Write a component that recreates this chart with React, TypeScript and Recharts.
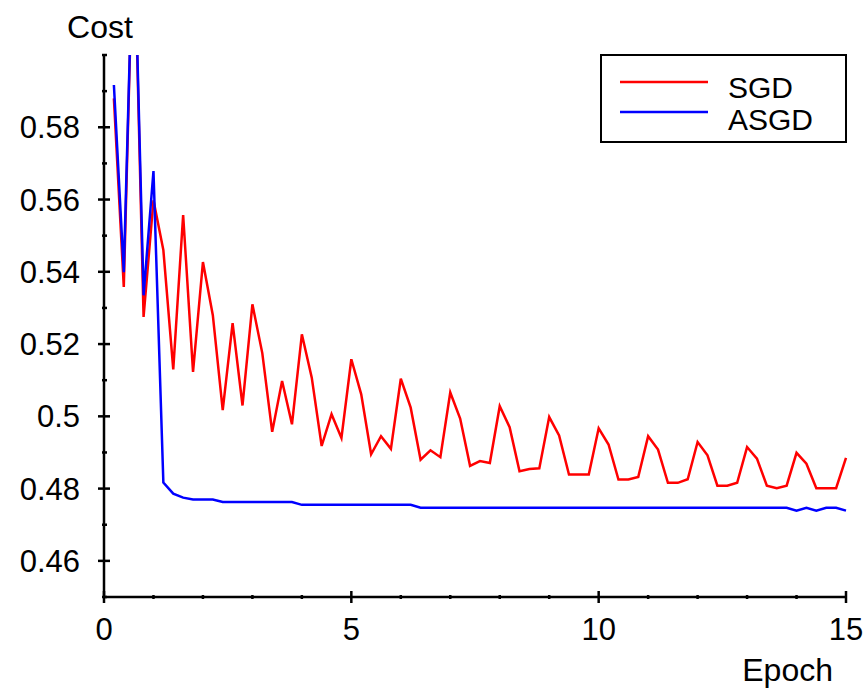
import { Legend, Line, LineChart, XAxis, YAxis } from "recharts";

const epochs = [
  0.2, 0.4, 0.6, 0.8, 1.0, 1.2, 1.4, 1.6, 1.8, 2.0, 2.2, 2.4, 2.6, 2.8, 3.0,
  3.2, 3.4, 3.6, 3.8, 4.0, 4.2, 4.4, 4.6, 4.8, 5.0, 5.2, 5.4, 5.6, 5.8, 6.0,
  6.2, 6.4, 6.6, 6.8, 7.0, 7.2, 7.4, 7.6, 7.8, 8.0, 8.2, 8.4, 8.6, 8.8, 9.0,
  9.2, 9.4, 9.6, 9.8, 10.0, 10.2, 10.4, 10.6, 10.8, 11.0, 11.2, 11.4, 11.6, 11.8, 12.0,
  12.2, 12.4, 12.6, 12.8, 13.0, 13.2, 13.4, 13.6, 13.8, 14.0, 14.2, 14.4, 14.6, 14.8, 15.0,
];

const sgd = [
  0.588, 0.5358, 0.64, 0.5275, 0.5598, 0.546, 0.513, 0.5557, 0.5123, 0.5427, 0.528, 0.5017, 0.5258, 0.503, 0.531,
  0.5175, 0.4957, 0.5098, 0.4978, 0.5227, 0.5107, 0.4918, 0.5006, 0.494, 0.5158, 0.5061, 0.4895, 0.4945, 0.491, 0.5104,
  0.5024, 0.488, 0.4906, 0.4887, 0.5066, 0.4994, 0.4863, 0.4876, 0.4871, 0.5028, 0.497, 0.4848, 0.4854, 0.4856, 0.4998,
  0.4947, 0.4839, 0.4839, 0.4839, 0.4967, 0.4922, 0.4825, 0.4825, 0.4832, 0.4945, 0.4908, 0.4816, 0.4816, 0.4826, 0.4929,
  0.4892, 0.4808, 0.4808, 0.4816, 0.4915, 0.4883, 0.4808, 0.4801, 0.4808, 0.4899, 0.4869, 0.4801, 0.4801, 0.4801, 0.4885,
];

const asgd = [
  0.5917, 0.5399, 0.64, 0.5335, 0.5679, 0.4817, 0.4786, 0.4775, 0.477, 0.477, 0.477, 0.4763, 0.4763, 0.4763, 0.4763,
  0.4763, 0.4763, 0.4763, 0.4763, 0.4755, 0.4755, 0.4755, 0.4755, 0.4755, 0.4755, 0.4755, 0.4755, 0.4755, 0.4755, 0.4755,
  0.4755, 0.4747, 0.4747, 0.4747, 0.4747, 0.4747, 0.4747, 0.4747, 0.4747, 0.4747, 0.4747, 0.4747, 0.4747, 0.4747, 0.4747,
  0.4747, 0.4747, 0.4747, 0.4747, 0.4747, 0.4747, 0.4747, 0.4747, 0.4747, 0.4747, 0.4747, 0.4747, 0.4747, 0.4747, 0.4747,
  0.4747, 0.4747, 0.4747, 0.4747, 0.4747, 0.4747, 0.4747, 0.4747, 0.4747, 0.4739, 0.4747, 0.4739, 0.4747, 0.4747, 0.4739,
];

const xTicks = [0, 1, 2, 3, 4, 5, 6, 7, 8, 9, 10, 11, 12, 13, 14, 15];
const xLabels = [0, 5, 10, 15];
const yTicks = [0.45, 0.46, 0.47, 0.48, 0.49, 0.5, 0.51, 0.52, 0.53, 0.54, 0.55, 0.56, 0.57, 0.58, 0.59, 0.6];
const yLabels = [0.46, 0.48, 0.5, 0.52, 0.54, 0.56, 0.58];

const series = [
  { key: "sgd", name: "SGD", color: "#ff0000" },
  { key: "asgd", name: "ASGD", color: "#0000ff" },
];

const data = epochs.map((epoch, i) => ({ epoch, sgd: sgd[i], asgd: asgd[i] }));

const FONT = '"Liberation Sans", Arial, sans-serif';

const YTick = ({ x, y, payload }: any) => {
  const major = yLabels.includes(payload.value);
  return (
    <g>
      <line x1={major ? x - 6 : x - 2} x2={major ? x + 6 : x + 3} y1={y} y2={y} stroke="#000" strokeWidth={2.5} />
      {major && (
        <text x={x - 24} y={y} dy="0.36em" textAnchor="end" fontSize={31} fontFamily={FONT} fill="#000">
          {String(payload.value)}
        </text>
      )}
    </g>
  );
};

const XTick = ({ x, y, payload }: any) => {
  const major = xLabels.includes(payload.value);
  return (
    <g>
      <line x1={x} x2={x} y1={major ? y - 6 : y - 2} y2={major ? y + 6 : y + 2} stroke="#000" strokeWidth={2.5} />
      {major && (
        <text x={x} y={y + 43} textAnchor="middle" fontSize={31} fontFamily={FONT} fill="#000">
          {String(payload.value)}
        </text>
      )}
    </g>
  );
};

const LegendBox = () => (
  <div
    style={{
      width: 247,
      height: 89,
      boxSizing: "border-box",
      border: "2px solid #000",
      background: "#fff",
      position: "relative",
    }}
  >
    <svg width={243} height={85} style={{ position: "absolute", left: 0, top: 0 }}>
      {series.map((s, i) => (
        <g key={s.key}>
          <line x1={18} x2={106} y1={26 + i * 30} y2={26 + i * 30} stroke={s.color} strokeWidth={2.5} />
          <text x={126} y={42 + i * 32} fontSize={30} fontFamily={FONT} fill="#000">
            {s.name}
          </text>
        </g>
      ))}
    </svg>
  </div>
);

export default function App() {
  return (
    <div style={{ position: "absolute", left: 0, top: 0, background: "#fff" }}>
      <LineChart width={863} height={689} data={data} margin={{ top: 55, right: 17, bottom: 0, left: 0 }}>
        <XAxis
          dataKey="epoch"
          type="number"
          domain={[0, 15]}
          ticks={xTicks}
          interval={0}
          height={92}
          tickSize={0}
          tickMargin={0}
          tickLine={false}
          axisLine={{ stroke: "#000", strokeWidth: 2.5 }}
          tick={<XTick />}
          label={({ viewBox }: any) => (
            <text
              x={viewBox.x + viewBox.width - 13}
              y={viewBox.y + 84}
              textAnchor="end"
              fontSize={32}
              fontFamily={FONT}
              fill="#000"
            >
              Epoch
            </text>
          )}
        />
        <YAxis
          type="number"
          domain={[0.45, 0.6]}
          allowDataOverflow
          ticks={yTicks}
          interval={0}
          width={104}
          tickSize={0}
          tickMargin={0}
          tickLine={false}
          axisLine={{ stroke: "#000", strokeWidth: 2.5 }}
          tick={<YTick />}
          label={({ viewBox }: any) => (
            <text
              x={viewBox.x + viewBox.width - 4}
              y={viewBox.y - 17}
              textAnchor="middle"
              fontSize={32}
              fontFamily={FONT}
              fill="#000"
            >
              Cost
            </text>
          )}
        />
        <Legend
          layout="horizontal"
          verticalAlign="middle"
          align="center"
          content={<LegendBox />}
          wrapperStyle={{ position: "absolute", left: 600, top: 54, width: 247, height: 89 }}
        />
        {series.map((s) => (
          <Line
            key={s.key}
            type="linear"
            dataKey={s.key}
            name={s.name}
            stroke={s.color}
            strokeWidth={2.5}
            dot={false}
            activeDot={false}
            isAnimationActive={false}
          />
        ))}
      </LineChart>
    </div>
  );
}
